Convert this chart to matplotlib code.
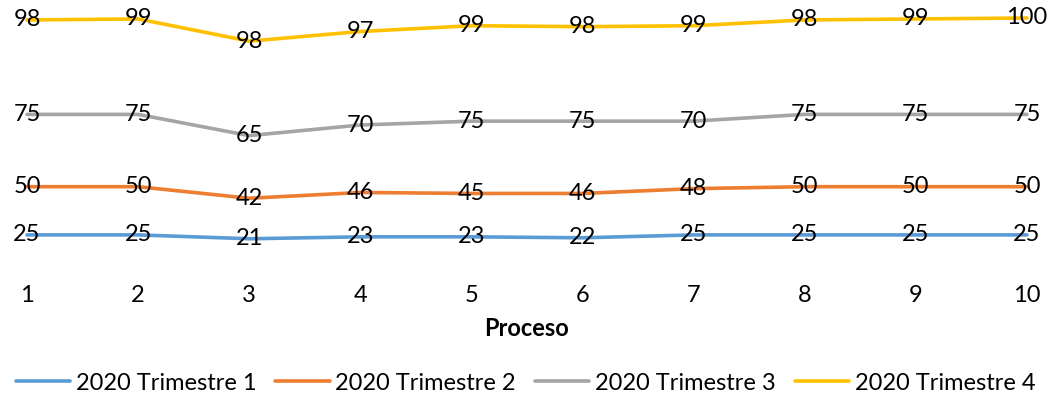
import numpy as np
import matplotlib.pyplot as plt

plt.rcParams["font.family"] = ["Lato", "DejaVu Sans"]

procesos = [1, 2, 3, 4, 5, 6, 7, 8, 9, 10]
series = ["2020 Trimestre 1", "2020 Trimestre 2", "2020 Trimestre 3", "2020 Trimestre 4"]
t1 = [25, 25, 21, 23, 23, 22, 25, 25, 25, 25]
t2 = [50, 50, 42, 46, 45, 46, 48, 50, 50, 50]
t3 = [75, 75, 65, 70, 75, 75, 70, 75, 75, 75]
t4 = [98, 99, 98, 97, 99, 98, 99, 98, 99, 100]
colores = ["#5B9BD5", "#ED7D31", "#A5A5A5", "#FFC000"]

W, H = 1051, 395
fig = plt.figure(figsize=(W / 100, H / 100), dpi=100)
# lineas apiladas: eje de 0 a 260
ax = fig.add_axes([27 / W, (H - 259) / H, 1000 / W, 260 * 0.964 / H])
ax.set_xlim(1, 10)
ax.set_ylim(0, 260)

datos = np.array([t1, t2, t3, t4])
acumulado = np.cumsum(datos, axis=0)

for nombre, vals, acum, c in zip(series, datos, acumulado, colores):
    ax.plot(procesos, acum, color=c, lw=2.6, label=nombre, clip_on=False,
            solid_capstyle="round")
    for x, v, y in zip(procesos, vals, acum):
        ax.text(x, y, str(v), ha="center", va="center", fontsize=17,
                color="black", clip_on=False)

for s in ax.spines.values():
    s.set_visible(False)
ax.set_yticks([])
ax.set_xticks(procesos)
ax.tick_params(axis="x", length=0, pad=19, labelsize=17)
ax.set_xlabel("Proceso", fontsize=17, fontweight="bold", labelpad=8)

fig.legend(loc="center", bbox_to_anchor=(0.5, (H - 383) / H), ncol=4,
           frameon=False, fontsize=17, handlelength=2.3, handletextpad=0.25,
           columnspacing=0.8)

fig.savefig("out.png", dpi=100)
